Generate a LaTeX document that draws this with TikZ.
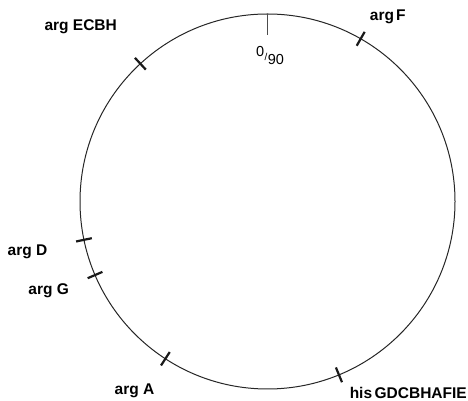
\documentclass[tikz,border=0pt]{standalone}
\usepackage{fontspec}
\setmainfont{Liberation Sans}
\begin{document}
\begin{tikzpicture}[x=1pt, y=1pt,
    ring/.style={draw=black!85, line width=1pt},
    genemark/.style={black!90, line width=2.2pt},
    origin/.style={black!70, line width=1.1pt},
    gene/.style={font=\fontsize{15.5}{18}\selectfont\bfseries, inner sep=0pt},
    every node/.style={inner sep=0pt}]
  \useasboundingbox (0,0) rectangle (468,401);
  % Chromosom (Mittelpunkt, Radius 187.5)
  \coordinate (c) at (267.5,199.5);
  \draw[ring] (c) circle (187.5);
  % Nullpunkt oben
  \draw[origin] (c) ++(90:187.5) coordinate (top) -- ++(90:-21);
  \node (zero) at (270,345) {\fontsize{14.5}{16}\selectfont
    \raisebox{4pt}{0}\kern0.5pt\raisebox{0.5pt}{\fontsize{10}{10}\selectfont/}\kern0.5pt\raisebox{-4pt}{90}};
  % Genorte auf dem Ring
  \foreach \a/\n in {60.2/argF, 132.7/argECBH, 191.8/argD, 203.1/argG, 237/argA, 292.4/his} {
    \coordinate (\n) at ([shift={(\a:187.5)}]c);
    \draw[genemark] ([shift={(\a:179.5)}]c) -- ([shift={(\a:195.5)}]c);
  }
  % Beschriftungen
  \node[gene] (lECBH) at (80.7,374.3) {arg ECBH};
  \node[gene] (lF)    at (387.7,383.7) {arg\kern2pt F};
  \node[gene] (lD)    at (27.5,149.3) {arg D};
  \node[gene] (lG)    at (48.7,110.3) {arg G};
  \node[gene] (lA)    at (134.5,10.3) {arg A};
  \node[gene, anchor=east] (lhis) at (467,8) {his\kern2.5pt GDCBHAFIE};
\end{tikzpicture}
\end{document}
